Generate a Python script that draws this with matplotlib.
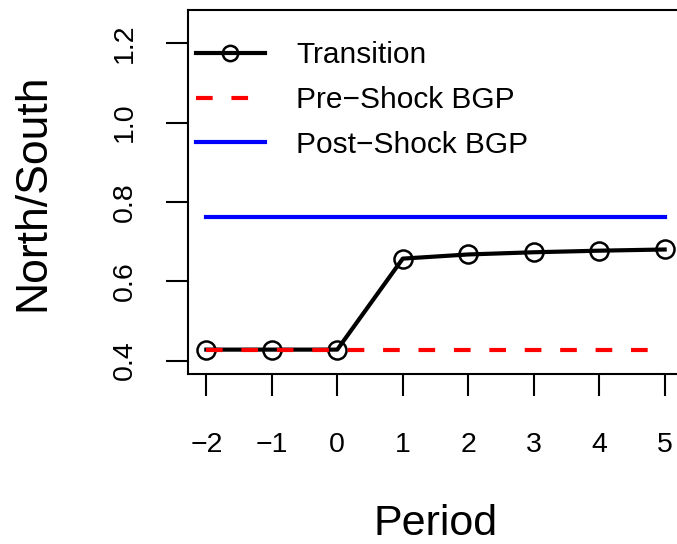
import matplotlib.pyplot as plt

plt.rcParams['font.family'] = ['Liberation Sans', 'DejaVu Sans']

# Periods relative to the shock
periods = [-2, -1, 0, 1, 2, 3, 4, 5]
# North/South ratio along the transition path
transition = [0.4275, 0.4275, 0.4275, 0.657, 0.6675, 0.673, 0.677, 0.68]
# Balanced growth path levels before and after the shock
pre_bgp = 0.4275
post_bgp = 0.761

x_ticks = [-2, -1, 0, 1, 2, 3, 4, 5]
y_ticks = [0.4, 0.6, 0.8, 1.0, 1.2]

fig = plt.figure(figsize=(6.77, 5.44), dpi=100)
ax = fig.add_axes([188 / 677, 170 / 544, 495 / 677, 364 / 544])

ax.plot(periods, transition, color='black', lw=3, marker='o', ms=13,
        mfc='none', mec='black', mew=1.8, label='Transition')
ax.plot([periods[0], periods[-1]], [pre_bgp, pre_bgp], color='red', lw=3,
        dashes=(4, 4.5), label='Pre\u2212Shock BGP')
ax.plot([periods[0], periods[-1]], [post_bgp, post_bgp], color='blue', lw=3,
        label='Post\u2212Shock BGP')

ax.set_xlim(-2.28, 5.28)
ax.set_ylim(0.366, 1.284)
ax.set_xticks(x_ticks)
ax.set_xticklabels([str(t).replace('-', '\u2212') for t in x_ticks])
ax.set_yticks(y_ticks)
ax.set_yticklabels(['%.1f' % t for t in y_ticks], rotation=90, va='center')

for s in ax.spines.values():
    s.set_linewidth(1.5)
ax.tick_params(direction='out', length=16, width=1.5, labelsize=20.5)
ax.tick_params(axis='x', pad=26)
ax.tick_params(axis='y', pad=20)

ax.set_xlabel('Period', fontsize=31, labelpad=33)
ax.set_ylabel('North/South', fontsize=32, labelpad=42)

leg = ax.legend(loc='upper left', frameon=False, fontsize=21.5,
                handlelength=2.3, handletextpad=1.05, labelspacing=0.56,
                borderpad=0, borderaxespad=0,
                bbox_to_anchor=(0.016, 0.914), markerscale=0.85)

fig.savefig('out.png', dpi=100)
